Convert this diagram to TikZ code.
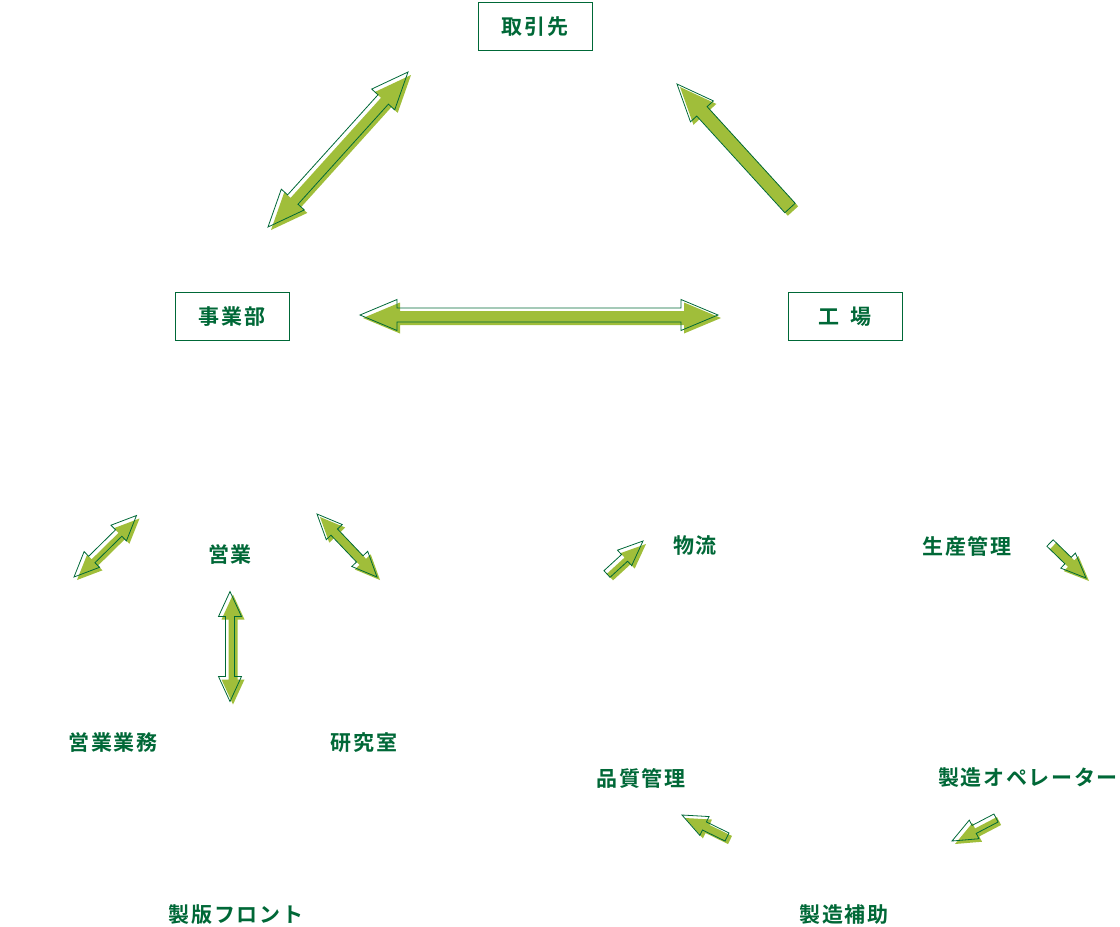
\documentclass[tikz,border=0pt]{standalone}
\usepackage{fontspec}
\newfontfamily\jpfont{Noto Sans CJK JP Bold}[LetterSpace=8]
\usetikzlibrary{calc,positioning}

\definecolor{deepgreen}{RGB}{0,104,55}
\definecolor{leafgreen}{RGB}{160,190,58}

\tikzset{
  jtext/.style={text=deepgreen,font=\jpfont\fontsize{21}{25}\selectfont,inner sep=0pt},
  unitbox/.style={jtext,draw=deepgreen,line width=0.9pt,minimum width=114pt,minimum height=48pt},
  arrshadow/.style={fill=leafgreen,transform canvas={shift={(3pt,-3pt)}}},
  arrline/.style={draw=deepgreen,line width=0.8pt}
}

% #1,#2 tips; #3 shaft half width; #4 head half width; #5 head length
\newcommand{\fatdouble}[5]{%
  \coordinate (#1-h) at ($(#1)!#5!(#2)$);
  \coordinate (#2-h) at ($(#2)!#5!(#1)$);
  \foreach \st in {arrshadow,arrline}
    \path[\st] (#1) -- ($(#1-h)!#4!90:(#2)$) -- ($(#1-h)!#3!90:(#2)$)
      -- ($(#2-h)!#3!-90:(#1)$) -- ($(#2-h)!#4!-90:(#1)$) -- (#2)
      -- ($(#2-h)!#4!90:(#1)$) -- ($(#2-h)!#3!90:(#1)$)
      -- ($(#1-h)!#3!-90:(#2)$) -- ($(#1-h)!#4!-90:(#2)$) -- cycle;
}
% #1 tail, #2 tip
\newcommand{\fatsingle}[5]{%
  \coordinate (#2-h) at ($(#2)!#5!(#1)$);
  \foreach \st in {arrshadow,arrline}
    \path[\st] ($(#1)!#3!90:(#2)$) -- ($(#2-h)!#3!-90:(#1)$)
      -- ($(#2-h)!#4!-90:(#1)$) -- (#2) -- ($(#2-h)!#4!90:(#1)$)
      -- ($(#2-h)!#3!90:(#1)$) -- ($(#1)!#3!-90:(#2)$) -- cycle;
}

\begin{document}
\begin{tikzpicture}[x=1pt,y=-1pt]
  \useasboundingbox (0,0) rectangle (1120,927);

  % top triangle
  \path
  (535,26.5) node[unitbox](tori){取引先}
  (232,316.5) node[unitbox](jigyo){事業部}
  (845,316.5) node[unitbox](kojo){工\hspace{12pt}場};

  \coordinate (tj1) at (268,227);
  \coordinate (tj2) at (408,72);
  \coordinate (kt1) at (790,208);
  \coordinate (kt2) at (677,84);
  \coordinate (jk1) at (360,315);
  \coordinate (jk2) at (718,315);

  \fatdouble{tj1}{tj2}{7pt}{15.5pt}{37pt}
  \fatsingle{kt1}{kt2}{7pt}{15.5pt}{37pt}
  \fatdouble{jk1}{jk2}{7pt}{15.5pt}{37pt}

  % sales side
  \path
  (230,555) node[jtext](eigyo){営業}
  (113,743) node[jtext](gyomu){営業業務}
  (364,743) node[jtext](kenkyu){研究室}
  (236,915) node[jtext](seihan){製版フロント};

  \coordinate (e1) at (74,577);
  \coordinate (e2) at (136.5,515.5);
  \coordinate (e3) at (317,514);
  \coordinate (e4) at (377,577);
  \coordinate (e5) at (230,591.5);
  \coordinate (e6) at (230,701.5);

  \fatdouble{e1}{e2}{4.5pt}{11pt}{25pt}
  \fatdouble{e3}{e4}{4.5pt}{11pt}{25pt}
  \fatdouble{e5}{e6}{4.5pt}{11.5pt}{25pt}

  % factory side
  \path
  (695,546) node[jtext](butsuryu){物流}
  (967,546) node[jtext](seisan){生産管理}
  (641,778) node[jtext](hinshitsu){品質管理}
  (1028,778) node[jtext](operator){製造オペレーター}
  (844,915) node[jtext](hojo){製造補助};

  \coordinate (f1) at (607,574);
  \coordinate (f2) at (643,541);
  \coordinate (f3) at (1050,543);
  \coordinate (f4) at (1086,578);
  \coordinate (f5) at (727,837);
  \coordinate (f6) at (682,815);
  \coordinate (f7) at (996,818);
  \coordinate (f8) at (952,841);

  \fatsingle{f1}{f2}{4.5pt}{10.5pt}{25pt}
  \fatsingle{f3}{f4}{4.5pt}{10.5pt}{25pt}
  \fatsingle{f5}{f6}{4.5pt}{10.5pt}{25pt}
  \fatsingle{f7}{f8}{4.5pt}{10.5pt}{25pt}
\end{tikzpicture}
\end{document}
